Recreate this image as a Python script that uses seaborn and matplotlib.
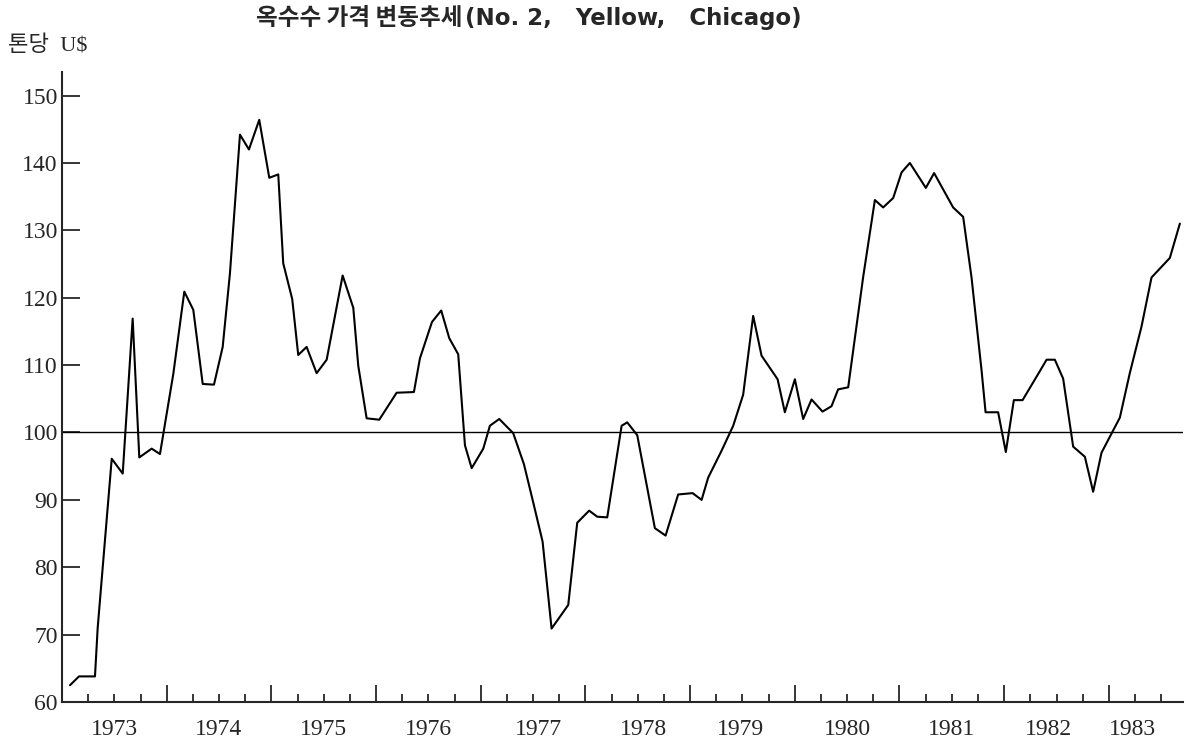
import numpy as np
import pandas as pd
import matplotlib
matplotlib.use('Agg')
import matplotlib.pyplot as plt
import seaborn as sns

# 1973년 1월 기준 경과 개월 수 (그림에서 읽은 꺾은선 꼭짓점)
months = [0.92, 1.95, 3.78, 4.09, 5.70, 6.96, 8.10, 8.86, 10.28, 11.23,
          12.76, 14.02, 15.05, 16.13, 17.42, 18.42, 19.25, 20.40, 21.43, 22.61,
          23.76, 24.79, 25.36, 26.39, 27.08, 28.04, 29.19, 30.34, 32.17, 33.39,
          33.96, 34.92, 36.37, 38.36, 40.34, 41.03, 42.41, 43.47, 44.39, 45.42,
          46.19, 46.96, 48.29, 49.05, 50.12, 51.72, 52.95, 54.02, 55.09, 56.12,
          58.03, 59.06, 60.43, 61.35, 62.50, 64.15, 64.79, 65.94, 67.96, 69.19,
          70.63, 72.28, 73.32, 74.07, 75.61, 76.94, 78.08, 79.23, 80.19, 82.03,
          82.86, 84.01, 84.96, 85.92, 87.18, 88.21, 88.97, 90.12, 91.84, 93.18,
          94.13, 95.28, 96.24, 97.19, 99.02, 99.97, 102.15, 103.30, 104.26, 105.41,
          105.87, 107.31, 108.19, 109.11, 110.11, 112.09, 112.86, 113.81, 114.76, 115.91,
          117.25, 118.20, 119.16, 121.26, 122.40, 123.74, 124.89, 126.99, 128.14]

# 톤당 가격 (U$)
price = [62.5, 63.8, 63.8, 71.0, 96.1, 93.9, 116.9, 96.3, 97.6, 96.8,
         108.7, 120.9, 118.2, 107.2, 107.1, 112.7, 123.6, 144.2, 142.0, 146.4,
         137.8, 138.3, 125.1, 119.8, 111.5, 112.7, 108.8, 110.8, 123.3, 118.5,
         109.9, 102.1, 101.9, 105.9, 106.0, 111.0, 116.4, 118.1, 114.0, 111.6,
         98.1, 94.7, 97.6, 101.0, 102.0, 99.9, 95.3, 89.6, 83.8, 70.9,
         74.4, 86.6, 88.4, 87.5, 87.4, 101.0, 101.5, 99.6, 85.8, 84.7,
         90.8, 91.0, 90.0, 93.3, 97.3, 101.0, 105.6, 117.3, 111.4, 107.9,
         103.0, 107.9, 102.0, 104.9, 103.1, 103.9, 106.4, 106.7, 123.1, 134.5,
         133.4, 134.8, 138.6, 140.0, 136.3, 138.5, 133.4, 132.0, 123.0, 109.2,
         103.0, 103.0, 97.1, 104.8, 104.8, 109.1, 110.8, 110.8, 108.0, 97.9,
         96.4, 91.2, 97.0, 102.2, 108.8, 115.7, 123.0, 125.9, 131.0]

years = list(range(1973, 1984))
year_label_pos = [1973.5, 1974.5, 1975.5, 1976.5, 1977.55, 1978.55, 1979.48,
                  1980.5, 1981.5, 1982.42, 1983.23]
base_level = 100

sns.set_style('ticks')
plt.rcParams['font.family'] = ['Liberation Serif', 'Noto Sans CJK KR']

df = pd.DataFrame({'연도': 1973 + np.array(months) / 12, '가격': price})

fig = plt.figure(figsize=(11.86, 7.46), dpi=100)
ax = fig.add_axes([62 / 1186, 1 - 702 / 746, (1183 - 62) / 1186, (702 - 72) / 746])

sns.lineplot(data=df, x='연도', y='가격', color='black', linewidth=1.5,
             sort=False, ax=ax)
ax.axhline(base_level, color='black', linewidth=1.0)

ax.set_xlim(1973, 1973 + 128.5 / 12)
ax.set_ylim(60, 153.5)
ax.set_yticks(range(60, 151, 10))
ax.set_xticks(range(1974, 1984))
ax.set_xticks([y + q / 4 for y in range(1973, 1984) for q in (1, 2, 3)
               if y + q / 4 < 1983.7], minor=True)
ax.tick_params(axis='x', which='major', direction='in', length=12, width=1.3,
               labelbottom=False)
ax.tick_params(axis='x', which='minor', direction='in', length=6, width=1.3)
ax.tick_params(axis='y', direction='in', length=13, width=1.3, labelsize=17, pad=3)
ax.set_xlabel('')
ax.set_ylabel('')
for side in ['top', 'right']:
    ax.spines[side].set_visible(False)
for side in ['left', 'bottom']:
    ax.spines[side].set_linewidth(1.5)

for yr, xp in zip(years, year_label_pos):
    ax.text(xp, -0.044, str(yr), transform=ax.get_xaxis_transform(),
            ha='center', va='center', fontsize=17)

# 제목: 한글 부분과 영문 부분
fig.text(256 / 1186, 1 - 18 / 746, '옥수수 가격 변동추세',
         ha='left', va='center', fontsize=17, fontweight='bold',
         family=['Noto Sans CJK KR', 'DejaVu Sans'])
fig.text(465 / 1186, 1 - 19 / 746, '(No. 2,   Yellow,   Chicago)',
         ha='left', va='center', fontsize=16.5, fontweight='bold',
         family=['DejaVu Sans'])
fig.text(8 / 1186, 1 - 46 / 746, '톤당  U$', ha='left', va='center', fontsize=16)

fig.savefig('out.png', dpi=100)
